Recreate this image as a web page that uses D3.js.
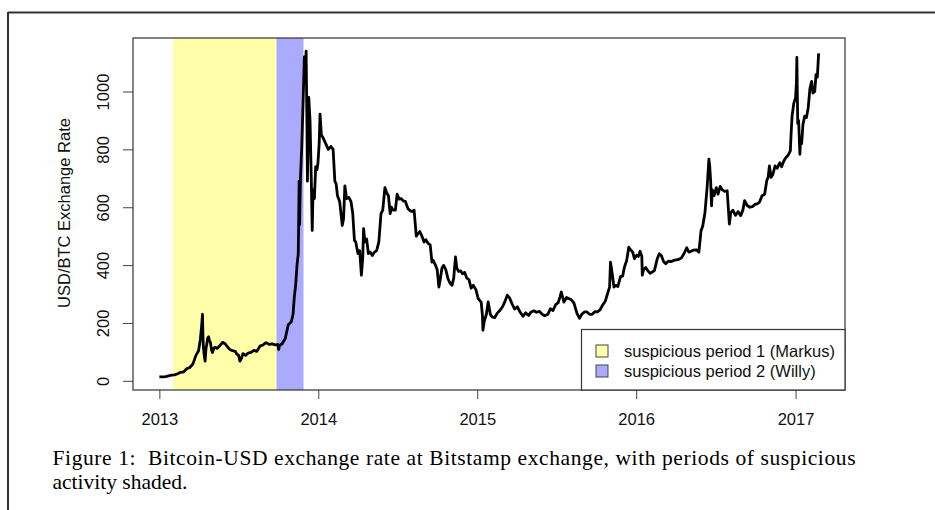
<!DOCTYPE html>
<html>
<head>
<meta charset="utf-8">
<script src="https://cdn.jsdelivr.net/npm/d3@7"></script>
<style>
  body { margin: 0; background: #fff; }
  svg { display: block; }
  .axis text { font-family: "Liberation Sans", Arial, sans-serif; font-size: 16.5px; fill: #111; }
  .axis line { stroke: #444; }
  .axis path { display: none; }
</style>
</head>
<body>
<svg width="935" height="510"></svg>
<script>
// daily closes (Bitstamp, USD per BTC)
const dates = [
  "2013-01-01","2013-01-08","2013-01-15","2013-01-22","2013-01-29","2013-02-05","2013-02-12","2013-02-19","2013-02-26",
  "2013-03-05","2013-03-12","2013-03-19","2013-03-26","2013-04-01","2013-04-05","2013-04-08","2013-04-10","2013-04-11",
  "2013-04-12","2013-04-14","2013-04-16","2013-04-18","2013-04-20","2013-04-22","2013-04-24","2013-04-26","2013-04-28",
  "2013-05-01","2013-05-03","2013-05-06","2013-05-09","2013-05-14","2013-05-20","2013-05-26","2013-06-01","2013-06-06",
  "2013-06-12","2013-06-18","2013-06-24","2013-06-28","2013-07-02","2013-07-05","2013-07-08","2013-07-12","2013-07-18",
  "2013-07-24","2013-07-30","2013-08-06","2013-08-13","2013-08-20","2013-08-27","2013-09-03","2013-09-10","2013-09-17",
  "2013-09-24","2013-09-30","2013-10-02","2013-10-04","2013-10-10","2013-10-17","2013-10-24","2013-10-31","2013-11-04",
  "2013-11-07","2013-11-10","2013-11-13","2013-11-16","2013-11-18","2013-11-19","2013-11-21","2013-11-24","2013-11-27",
  "2013-11-30","2013-12-02","2013-12-04","2013-12-06","2013-12-07","2013-12-10","2013-12-13","2013-12-16","2013-12-18",
  "2013-12-20","2013-12-23","2013-12-26","2013-12-29","2013-12-31",
  "2014-01-03","2014-01-05","2014-01-08","2014-01-12","2014-01-18","2014-01-24","2014-01-30","2014-02-04","2014-02-08",
  "2014-02-11","2014-02-14","2014-02-19","2014-02-25","2014-02-28","2014-03-03","2014-03-07","2014-03-12","2014-03-17",
  "2014-03-21","2014-03-25","2014-03-28","2014-04-02","2014-04-06","2014-04-10","2014-04-13","2014-04-15","2014-04-18",
  "2014-04-22","2014-04-26","2014-04-30","2014-05-05","2014-05-10","2014-05-15","2014-05-20","2014-05-25","2014-05-29",
  "2014-06-03","2014-06-07","2014-06-11","2014-06-15","2014-06-18","2014-06-22","2014-06-27","2014-07-01","2014-07-06",
  "2014-07-10","2014-07-15","2014-07-20","2014-07-26","2014-07-31","2014-08-04","2014-08-09","2014-08-14","2014-08-18",
  "2014-08-22","2014-08-27","2014-09-01","2014-09-05","2014-09-10","2014-09-15","2014-09-19","2014-09-22","2014-09-27",
  "2014-10-01","2014-10-05","2014-10-08","2014-10-12","2014-10-16","2014-10-21","2014-10-26","2014-10-31","2014-11-04",
  "2014-11-08","2014-11-12","2014-11-15","2014-11-19","2014-11-24","2014-11-28","2014-12-03","2014-12-08","2014-12-13",
  "2014-12-18","2014-12-23","2014-12-29",
  "2015-01-03","2015-01-06","2015-01-10","2015-01-13","2015-01-14","2015-01-17","2015-01-22","2015-01-26","2015-01-31",
  "2015-02-04","2015-02-10","2015-02-16","2015-02-22","2015-02-28","2015-03-05","2015-03-11","2015-03-16","2015-03-22",
  "2015-03-28","2015-04-03","2015-04-10","2015-04-16","2015-04-22","2015-04-29","2015-05-05","2015-05-11","2015-05-17",
  "2015-05-24","2015-05-30","2015-06-05","2015-06-12","2015-06-18","2015-06-24","2015-06-30","2015-07-06","2015-07-10",
  "2015-07-13","2015-07-19","2015-07-25","2015-07-31","2015-08-05","2015-08-11","2015-08-18","2015-08-24","2015-08-29",
  "2015-09-04","2015-09-10","2015-09-16","2015-09-22","2015-09-28","2015-10-04","2015-10-10","2015-10-16","2015-10-22",
  "2015-10-28","2015-11-01","2015-11-03","2015-11-05","2015-11-07","2015-11-11","2015-11-15","2015-11-20","2015-11-26",
  "2015-12-01","2015-12-05","2015-12-10","2015-12-15","2015-12-18","2015-12-24","2015-12-28",
  "2016-01-02","2016-01-06","2016-01-10","2016-01-14","2016-01-15","2016-01-18","2016-01-23","2016-01-28","2016-02-02",
  "2016-02-07","2016-02-12","2016-02-18","2016-02-23","2016-02-28","2016-03-04","2016-03-09","2016-03-15","2016-03-21",
  "2016-03-27","2016-04-02","2016-04-08","2016-04-14","2016-04-20","2016-04-26","2016-05-01","2016-05-06","2016-05-12",
  "2016-05-18","2016-05-24","2016-05-29","2016-06-02","2016-06-07","2016-06-12","2016-06-16","2016-06-18","2016-06-20",
  "2016-06-22","2016-06-24","2016-06-28","2016-07-03","2016-07-07","2016-07-12","2016-07-17","2016-07-22","2016-07-28",
  "2016-08-02","2016-08-05","2016-08-10","2016-08-16","2016-08-22","2016-08-28","2016-09-02","2016-09-06","2016-09-12",
  "2016-09-18","2016-09-24","2016-09-30","2016-10-05","2016-10-10","2016-10-16","2016-10-22","2016-10-27","2016-10-30",
  "2016-11-02","2016-11-06","2016-11-10","2016-11-15","2016-11-20","2016-11-26","2016-11-30","2016-12-05","2016-12-10",
  "2016-12-15","2016-12-20","2016-12-22","2016-12-24","2016-12-28",
  "2017-01-01","2017-01-03","2017-01-04","2017-01-05","2017-01-06","2017-01-08","2017-01-11","2017-01-12","2017-01-15",
  "2017-01-18","2017-01-22","2017-01-26","2017-01-30","2017-02-03","2017-02-07","2017-02-10","2017-02-14","2017-02-17",
  "2017-02-20","2017-02-23"
];
const prices = [
  13.3,13.8,14.2,16.8,19.5,20.5,24.5,29.5,31,
  42,46,58,88,104,142,188,230,160,
  118,88,68,110,128,148,152,138,134,
  106,98,112,116,112,122,133,128,118,
  108,104,102,92,88,68,76,94,88,
  96,98,105,102,120,124,132,126,128,
  124,126,108,122,128,146,194,204,230,
  292,330,398,440,690,540,700,810,960,
  1120,1050,1140,880,690,980,900,690,520,
  660,630,740,730,750,
  820,922,850,840,820,800,810,800,690,
  681,640,620,537,560,674,630,634,620,
  580,485,480,440,450,365,425,526,480,
  490,440,445,433,445,450,480,578,590,
  668,650,640,578,600,590,590,645,628,
  630,622,620,595,588,585,590,500,509,
  516,500,480,488,475,470,410,416,400,
  384,324,350,390,399,383,352,336,330,
  355,428,390,378,380,370,375,355,350,
  320,330,315,
  285,279,272,225,175,205,230,273,230,
  221,218,234,243,256,272,296,287,266,
  248,256,236,223,235,226,238,242,237,
  240,230,225,230,249,243,263,270,290,
  307,272,288,284,280,269,233,216,230,
  238,238,230,230,239,238,245,262,275,
  305,325,410,390,370,324,330,326,360,
  362,393,415,462,455,445,422,
  434,430,448,430,365,385,392,380,372,
  376,382,420,439,432,412,405,414,412,
  416,418,420,425,440,460,445,448,452,
  453,445,519,536,582,670,766,740,690,
  605,660,640,668,645,672,660,655,657,
  542,580,590,572,585,571,590,623,606,
  600,602,610,612,617,640,645,693,703,
  743,703,714,743,735,754,740,760,772,
  780,795,860,915,960,
  978,1030,1118,1000,890,900,783,820,820,
  886,915,910,943,1010,1035,995,1000,1058,
  1050,1132
];

// shaded periods
const periodNames = ["suspicious period 1 (Markus)", "suspicious period 2 (Willy)"];
const periodStart = ["2013-02-01", "2013-09-27"];
const periodEnd = ["2013-09-27", "2013-11-28"];
const periodColors = ["#ffffaa", "#aaaaff"];

const yTicks = [0, 200, 400, 600, 800, 1000];
const xTickYears = ["2013", "2014", "2015", "2016", "2017"];

const captionLines = [
  "Figure 1:  Bitcoin-USD exchange rate at Bitstamp exchange, with periods of suspicious",
  "activity shaded."
];

const svg = d3.select("svg");
const parse = d3.utcParse("%Y-%m-%d");

const data = dates.map((d, i) => ({ date: parse(d), price: prices[i] }));

const plot = { left: 133, right: 845, top: 38, bottom: 390 };

// R style: 4% padding on each side of the data range
const xExt = d3.extent(data, d => d.date);
const xPad = (xExt[1] - xExt[0]) * 0.04;
const x = d3.scaleUtc()
  .domain([new Date(+xExt[0] - xPad), new Date(+xExt[1] + xPad)])
  .range([plot.left, plot.right]);

const yExt = d3.extent(data, d => d.price);
const yPad = (yExt[1] - yExt[0]) * 0.04;
const y = d3.scaleLinear()
  .domain([yExt[0] - yPad, yExt[1] + yPad])
  .range([plot.bottom, plot.top]);

// outer page frame
svg.append("line")
  .attr("x1", 8).attr("x2", 935).attr("y1", 12.5).attr("y2", 12.5)
  .attr("stroke", "#333").attr("stroke-width", 2);
svg.append("line")
  .attr("x1", 8).attr("x2", 8).attr("y1", 12).attr("y2", 510)
  .attr("stroke", "#333").attr("stroke-width", 2);

svg.append("clipPath").attr("id", "clip")
  .append("rect")
  .attr("x", plot.left).attr("y", plot.top)
  .attr("width", plot.right - plot.left).attr("height", plot.bottom - plot.top);

// shaded rects
svg.append("g")
  .attr("clip-path", "url(#clip)")
  .selectAll("rect")
  .data(periodNames)
  .join("rect")
  .attr("x", (d, i) => x(parse(periodStart[i])))
  .attr("width", (d, i) => x(parse(periodEnd[i])) - x(parse(periodStart[i])))
  .attr("y", plot.top)
  .attr("height", plot.bottom - plot.top)
  .attr("fill", (d, i) => periodColors[i]);

// price line
const line = d3.line()
  .x(d => x(d.date))
  .y(d => y(d.price));

svg.append("path")
  .datum(data)
  .attr("clip-path", "url(#clip)")
  .attr("d", line)
  .attr("fill", "none")
  .attr("stroke", "#000")
  .attr("stroke-width", 2.8)
  .attr("stroke-linejoin", "round");

// axes
const xAxis = svg.append("g")
  .attr("class", "axis")
  .attr("transform", `translate(0,${plot.bottom})`)
  .call(d3.axisBottom(x)
    .tickValues(xTickYears.map(t => parse(t + "-01-01")))
    .tickFormat(d3.utcFormat("%Y"))
    .tickSize(9));
xAxis.selectAll("text").attr("y", 35).attr("dy", 0);

const yAxis = svg.append("g")
  .attr("class", "axis")
  .attr("transform", `translate(${plot.left},0)`)
  .call(d3.axisLeft(y).tickValues(yTicks).tickFormat(d3.format("d")).tickSize(10));
yAxis.selectAll("text")
  .attr("x", 0).attr("dy", 0)
  .attr("text-anchor", "middle")
  .attr("transform", "translate(-24,0) rotate(-90)");

svg.append("text")
  .attr("transform", "translate(70,213) rotate(-90)")
  .attr("text-anchor", "middle")
  .style("font-family", "'Liberation Sans', Arial, sans-serif")
  .style("font-size", "16.5px")
  .attr("fill", "#111")
  .text("USD/BTC Exchange Rate");

// plot box
svg.append("rect")
  .attr("x", plot.left).attr("y", plot.top)
  .attr("width", plot.right - plot.left).attr("height", plot.bottom - plot.top)
  .attr("fill", "none").attr("stroke", "#333").attr("stroke-width", 1.2);

// legend
const legend = svg.append("g");
legend.append("rect")
  .attr("x", 581.5).attr("y", 329.5)
  .attr("width", plot.right - 581.5).attr("height", plot.bottom - 329.5)
  .attr("fill", "#fff").attr("stroke", "#333").attr("stroke-width", 1.2);

const items = legend.selectAll("g.item")
  .data(periodNames)
  .join("g")
  .attr("class", "item")
  .attr("transform", (d, i) => `translate(596,${351 + i * 20})`);
items.append("rect")
  .attr("x", 0).attr("y", -6)
  .attr("width", 12).attr("height", 12)
  .attr("fill", (d, i) => periodColors[i])
  .attr("stroke", "#444").attr("stroke-width", 1);
items.append("text")
  .attr("x", 28).attr("y", 6)
  .style("font-family", "'Liberation Sans', Arial, sans-serif")
  .style("font-size", "16.5px")
  .attr("fill", "#111")
  .text(d => d);

// caption
svg.append("text")
  .attr("x", 52.5).attr("y", 465)
  .attr("textLength", 803).attr("lengthAdjust", "spacing")
  .style("font-family", "'Liberation Serif', 'Times New Roman', serif")
  .style("font-size", "21.5px")
  .attr("fill", "#000")
  .style("white-space", "pre")
  .text(captionLines[0]);
svg.append("text")
  .attr("x", 52.5).attr("y", 488.5)
  .style("font-family", "'Liberation Serif', 'Times New Roman', serif")
  .style("font-size", "21.5px")
  .attr("fill", "#000")
  .text(captionLines[1]);
</script>
</body>
</html>
